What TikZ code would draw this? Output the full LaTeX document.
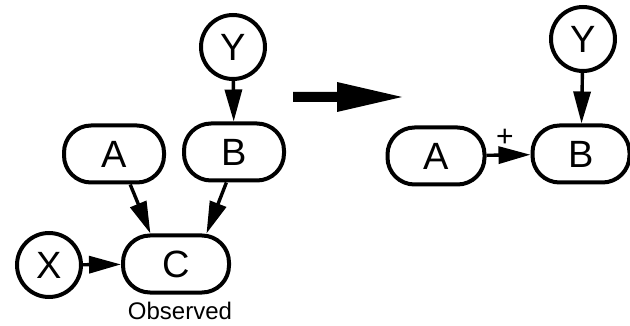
\documentclass[tikz,border=0pt]{standalone}
\usepackage{fontspec}
\setmainfont{Liberation Sans}
\usetikzlibrary{arrows.meta}
\begin{document}
\begin{tikzpicture}[x=1pt,y=-1pt,
  every node/.style={font=\fontsize{38}{40}\selectfont},
  var/.style={draw, line width=4pt, rounded corners=27pt, minimum width=#1, minimum height=57pt, inner sep=0pt},
  var/.default=100pt,
  cvar/.style={draw, circle, line width=4pt, minimum size=64pt, inner sep=0pt},
  link/.style={line width=3.4pt, -{Triangle[length=32pt,width=17pt]}}
]
\useasboundingbox (0,0) rectangle (630,326);
% left network
\node[cvar] (Y1) at (233,47) {Y};
\node[var] (B1) at (234,152) {B};
\node[var] (A1) at (114,154) {A};
\node[var=106pt] (C1) at (176,264) {C};
\node[cvar] (X1) at (49,265) {X};
\node[font=\fontsize{24}{26}\selectfont] (obs) at (180,311) {Observed};
\draw[link] (Y1) -- (B1);
\draw[link] (A1.-62) -- (C1.130);
\draw[link] (B1.-104) -- (C1.45);
\draw[link] (X1) -- (C1);
% right network
\node[cvar] (Y2) at (583,39) {Y};
\node[var=97pt] (B2) at (581,154) {B};
\node[var=97pt] (A2) at (436,156) {A};
\draw[link] (Y2) -- (B2);
\draw[link] (A2) -- (B2);
\node[font=\fontsize{30}{32}\selectfont] (plus) at (505,138) {+};
% big arrow
\fill (293,92) -- (337,92) -- (337,82) -- (402,97) -- (337,112) -- (337,102) -- (293,102) -- cycle;
\end{tikzpicture}
\end{document}
